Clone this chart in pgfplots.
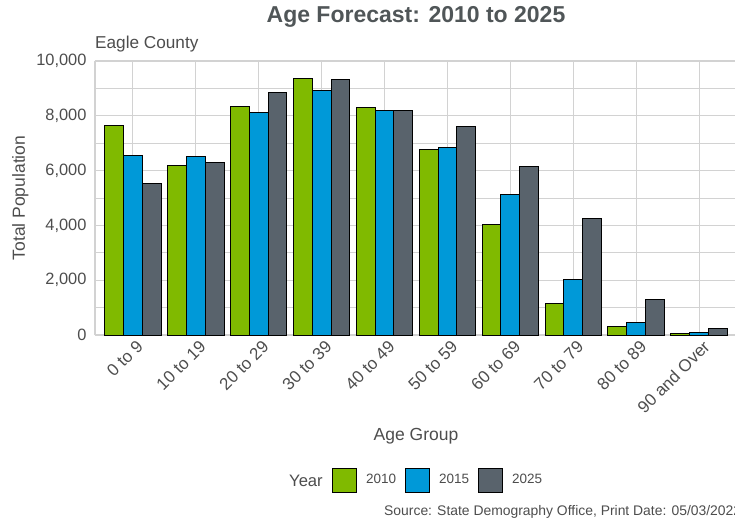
\documentclass[border=0pt]{standalone}
\usepackage{pgfplots}
\pgfplotsset{compat=1.18}
\usepackage{fontspec}
\setmainfont{Liberation Sans}
\definecolor{cGreen}{RGB}{128,186,0}
\definecolor{cBlue}{RGB}{0,153,216}
\definecolor{cGray}{RGB}{89,99,108}
\definecolor{txt}{RGB}{77,77,77}
\definecolor{ttl}{RGB}{80,86,88}
\definecolor{grd}{RGB}{210,210,210}
\begin{document}
\begin{tikzpicture}
\path[use as bounding box] (-95pt,-189pt) rectangle (640pt,335pt);
\begin{axis}[
  at={(0pt,0pt)}, anchor=south west,
  scale only axis,
  width=642pt, height=274pt,
  ybar=0pt, bar width=0.3,
  xmin=-0.6, xmax=9.6,
  ymin=0, ymax=10000,
  xtick={0,...,9},
  xticklabels={0 to 9,10 to 19,20 to 29,30 to 39,40 to 49,50 to 59,60 to 69,70 to 79,80 to 89,90 and Over},
  xticklabel style={rotate=45, anchor=north east, font=\fontsize{17}{20}\selectfont, text=txt, inner sep=2pt, yshift=-3pt, xshift=1pt},
  ytick={0,2000,...,10000},
  minor ytick={1000,3000,...,9000},
  yticklabel style={font=\fontsize{16.4}{19}\selectfont, text=txt, xshift=-5pt},
  /pgf/number format/assume math mode=true,
  scaled y ticks=false,
  yticklabel={\pgfmathprintnumber[1000 sep={,}]{\tick}},
  major tick length=0pt, minor tick length=0pt,
  xmajorgrids, ymajorgrids, yminorgrids,
  major grid style={grd, line width=1.1pt},
  minor grid style={grd, line width=0.8pt},
  axis x line*=bottom, axis y line*=left,
  axis line style={grd, line width=1.1pt, -},
  xlabel={Age Group}, ylabel={Total Population},
  label style={font=\fontsize{17.5}{21}\selectfont, text=txt},
  xlabel style={at={(0.5,0)}, anchor=base, yshift=-105pt},
  ylabel style={at={(0,0.5)}, anchor=base, xshift=0pt, yshift=70pt},
  legend style={draw=none, fill=none, at={(0.3692,-0.5292)}, anchor=west,
    inner sep=0pt, outer sep=0pt,
    legend columns=-1, font=\fontsize{13.5}{16}\selectfont, text=txt,
    nodes={inner sep=0pt},
    /tikz/every odd column/.append style={column sep=9pt},
    /tikz/every even column/.append style={column sep=9pt}},
  legend image code/.code={\draw[#1, line width=1pt] (0pt,-12pt) rectangle (24pt,12pt);},
  legend cell align=left,
]
\addplot[fill=cGreen, draw=black, line width=1pt, bar shift=-0.3] coordinates {
  (0,7650) (1,6170) (2,8350) (3,9370) (4,8310) (5,6780) (6,4050) (7,1140) (8,300) (9,40)};
\addplot[fill=cBlue, draw=black, line width=1pt, bar shift=0] coordinates {
  (0,6560) (1,6520) (2,8130) (3,8940) (4,8200) (5,6830) (6,5130) (7,2040) (8,460) (9,80)};
\addplot[fill=cGray, draw=black, line width=1pt, bar shift=0.3] coordinates {
  (0,5540) (1,6280) (2,8840) (3,9340) (4,8200) (5,7620) (6,6150) (7,4260) (8,1280) (9,220)};
\legend{2010,2015,2025}
\end{axis}
\node[anchor=base, text=ttl, font=\bfseries\fontsize{23}{27}\selectfont] at (321pt,312pt) {Age Forecast: 2010 to 2025};
\node[anchor=base west, inner sep=0pt, text=txt, font=\fontsize{17.2}{20}\selectfont] at (0pt,286pt) {Eagle County};
\node[anchor=base west, inner sep=0pt, text=txt, font=\fontsize{16.6}{19}\selectfont] at (194pt,-151pt) {Year};
\node[anchor=base west, inner sep=0pt, text=txt, font=\fontsize{13.9}{16}\selectfont] at (289pt,-180pt) {Source: State Demography Office, Print Date: 05/03/2022};
\end{tikzpicture}
\end{document}
